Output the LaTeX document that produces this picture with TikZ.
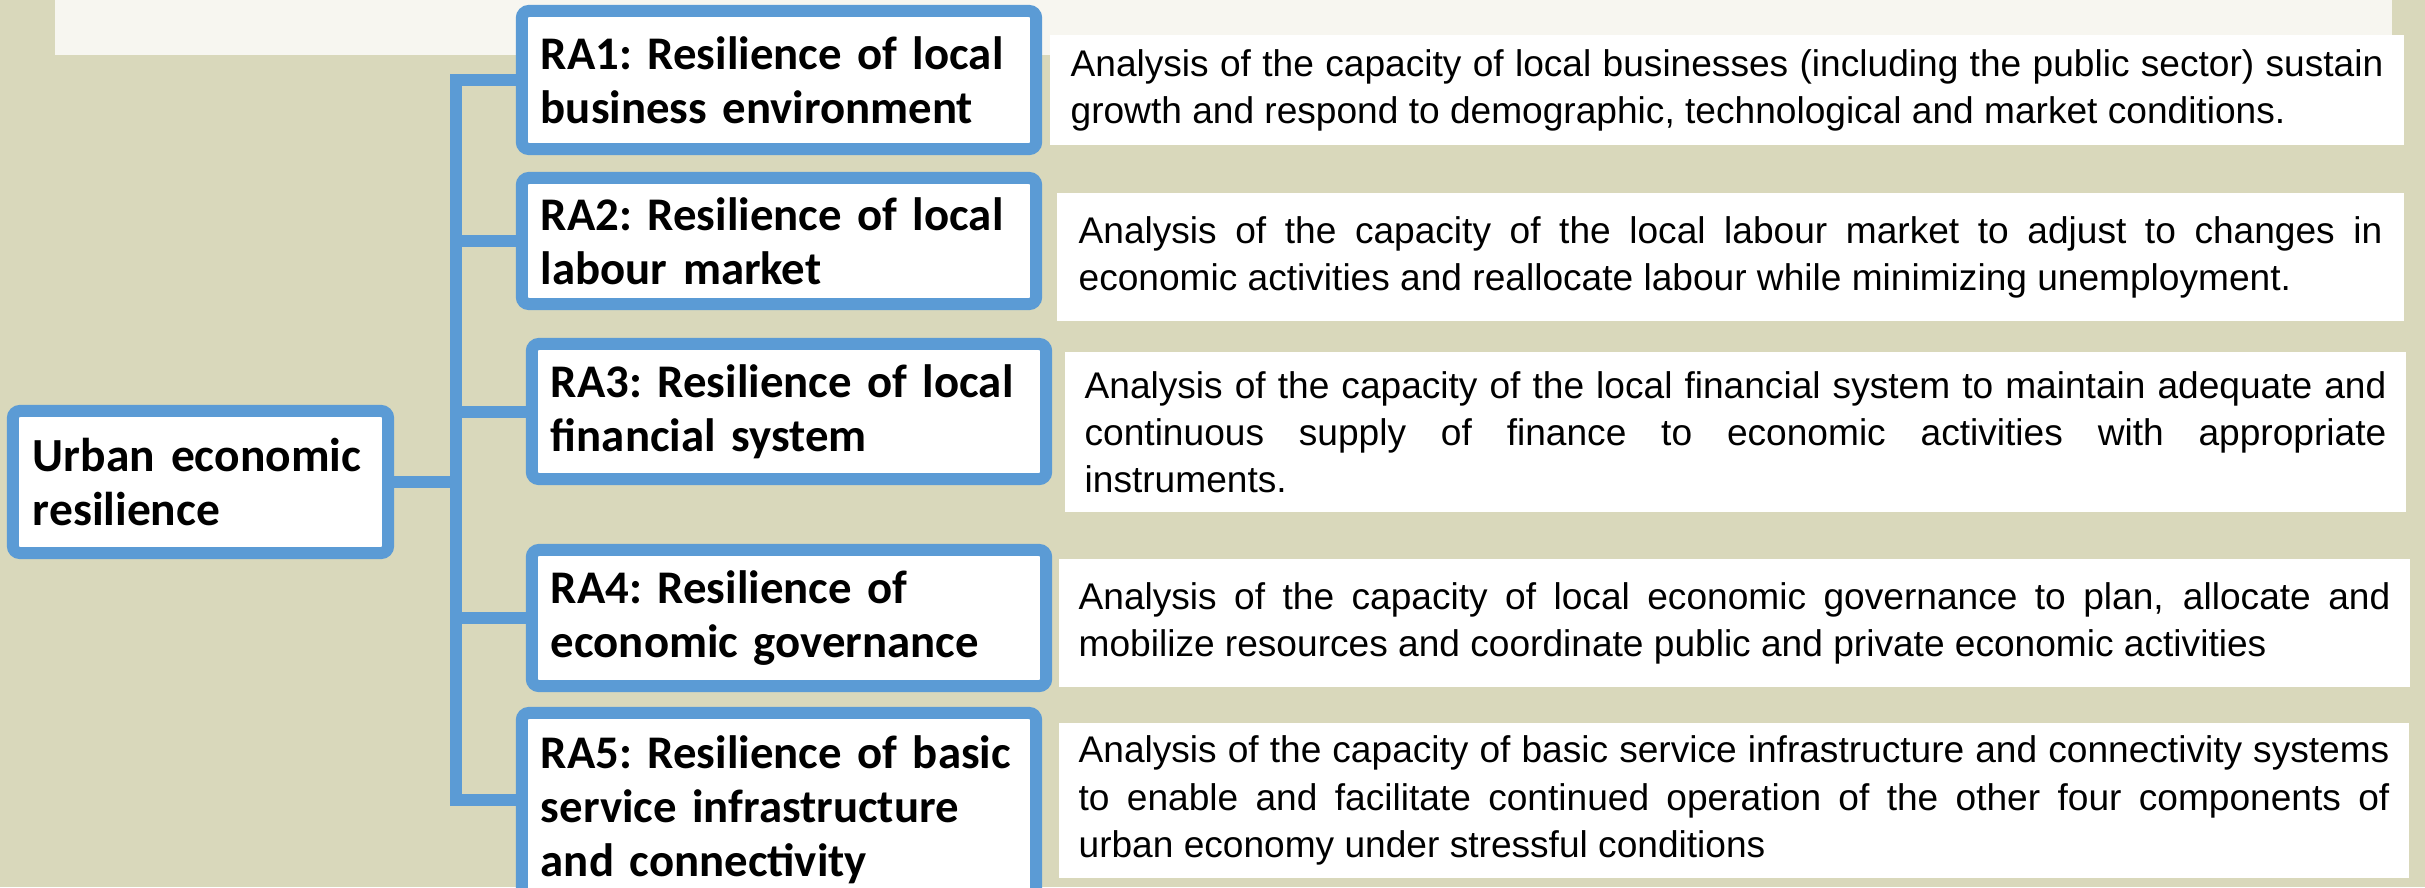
\documentclass[tikz,border=0pt]{standalone}
\usepackage{fontspec}
\newfontfamily\boxfont{Carlito}
\newfontfamily\descfont{Liberation Sans}
\definecolor{bgolive}{HTML}{D9D8BB}
\definecolor{bandcol}{HTML}{F7F6F0}
\definecolor{ublue}{HTML}{5B9BD5}
\hbadness=10000 \hfuzz=100pt
\begin{document}
\begin{tikzpicture}[x=0.01cm,y=-0.01cm,
  rabox/.style={draw=ublue, line width=0.12cm, fill=white, rounded corners=2pt,
    text width=4.76cm, inner xsep=0.19cm, inner ysep=0pt, align=left,
    font=\boxfont\bfseries\frenchspacing\fontsize{13.3}{15.4}\selectfont},
  descbox/.style={fill=white, inner ysep=0pt, align=justify,
    font=\descfont\fontsize{10.55}{13.4}\selectfont},
  conn/.style={draw=ublue, line width=0.12cm}]
\fill[bgolive] (0,0) rectangle (2425,887);
\useasboundingbox (0,0) rectangle (2425,887);
\fill[bandcol] (55,0) rectangle (2392,55);

% root
\node[rabox, text width=3.35cm, inner xsep=0.2cm, minimum height=1.42cm,
  font=\boxfont\bfseries\frenchspacing\fontsize{13.5}{15.4}\selectfont] (root) at (200.5,482) {\mbox{Urban economic}\\\mbox{resilience}};

% RA boxes
\node[rabox, minimum height=1.38cm] (ra1) at (779,80) {\mbox{RA1: Resilience of local}\\\mbox{business environment}};
\node[rabox, minimum height=1.26cm] (ra2) at (779,241) {\mbox{RA2: Resilience of local}\\\mbox{labour market}};
\node[rabox, minimum height=1.35cm] (ra3) at (789,411.5) {\mbox{RA3: Resilience of local}\\\mbox{financial system}};
\node[rabox, minimum height=1.36cm] (ra4) at (789,618) {\mbox{RA4: Resilience of}\\\mbox{economic governance}};
\node[rabox, minimum height=1.94cm] (ra5) at (779,810) {\mbox{RA5: Resilience of basic}\\\mbox{service infrastructure}\\\mbox{and connectivity}};

% connectors
\coordinate (trunk) at (455.5,482);
\draw[conn] (root.east) -- (trunk) |- (ra1.west);
\draw[conn] (root.east) -- (trunk) |- (ra2.west);
\draw[conn] (root.east) -- (trunk) |- (ra3.west);
\draw[conn] (root.east) -- (trunk) |- (ra4.west);
\draw[conn] (root.east) -- (trunk) |- ([yshift=0.1cm]ra5.west);

% descriptions
\node[descbox, text width=13.12cm, inner xsep=0.21cm, minimum height=1.10cm] (d1) at (1727,90)
 {Analysis of the capacity of local businesses (including the public sector) sustain\linebreak growth and respond to demographic, technological and market conditions.};
\node[descbox, text width=13.03cm, inner xsep=0.22cm, minimum height=1.28cm] (d2) at (1730.5,257)
 {Analysis of the capacity of the local labour market to adjust to changes in\linebreak economic activities and reallocate labour while minimizing unemployment.};
\node[descbox, text width=13.01cm, inner xsep=0.20cm, minimum height=1.60cm] (d3) at (1735.5,432)
 {Analysis of the capacity of the local financial system to maintain adequate and\linebreak continuous supply of finance to economic activities with appropriate\linebreak instruments.};
\node[descbox, text width=13.11cm, inner xsep=0.20cm, minimum height=1.28cm] (d4) at (1734.5,623)
 {Analysis of the capacity of local economic governance to plan, allocate and\linebreak mobilize resources and coordinate public and private economic activities};
\node[descbox, text width=13.10cm, inner xsep=0.20cm, minimum height=1.55cm] (d5) at (1734,800.5)
 {Analysis of the capacity of basic service infrastructure and connectivity systems\linebreak to enable and facilitate continued operation of the other four components of\linebreak urban economy under stressful conditions};
\end{tikzpicture}
\end{document}
